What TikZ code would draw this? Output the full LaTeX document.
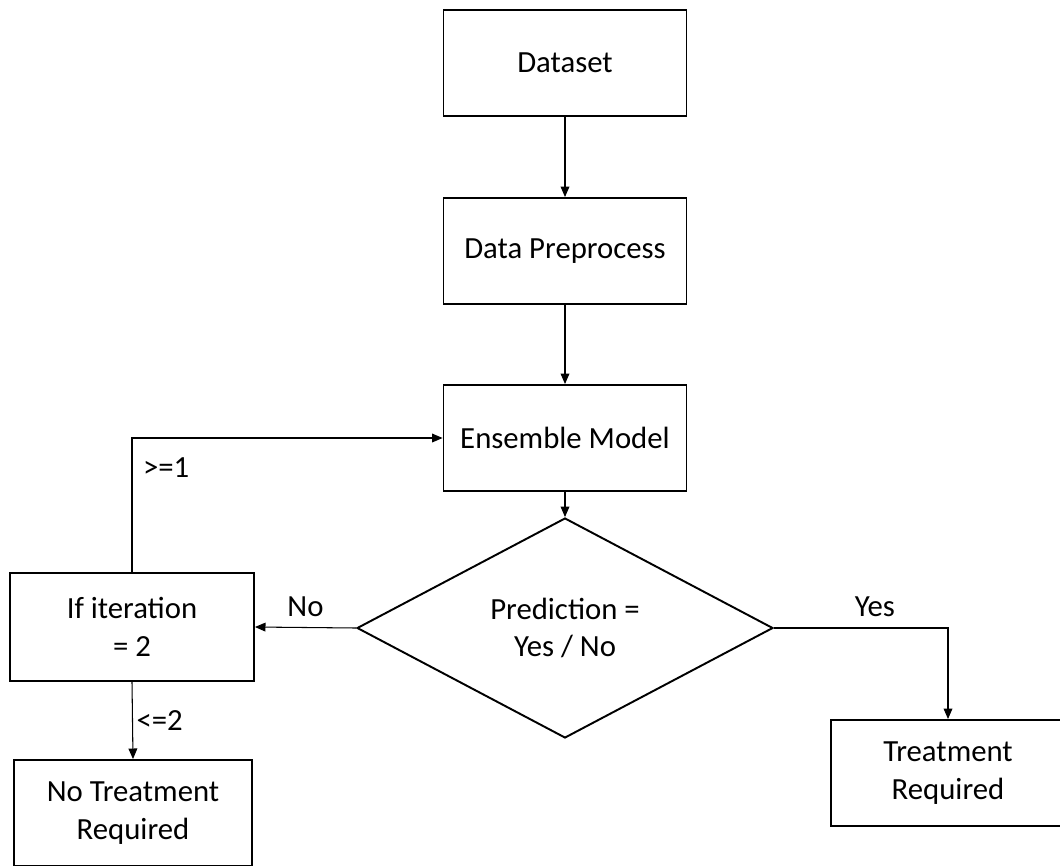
\documentclass[tikz,border=0pt]{standalone}
\usepackage{fontspec}
\setmainfont{Carlito}
\usetikzlibrary{arrows.meta,positioning,shapes.geometric}
\newcommand{\flowfont}{\fontsize{17.5}{21.5}\selectfont}

\begin{document}
\begin{tikzpicture}[x=0.02cm,y=-0.02cm,
  box/.style={draw, line width=1.1pt, minimum width=4.86cm, minimum height=2.12cm, align=center, font=\flowfont},
  decision/.style={draw, diamond, line width=1.1pt, minimum width=8.32cm, minimum height=4.4cm, inner sep=0pt, align=center, font=\flowfont},
  link/.style={draw, line width=0.6pt, -{Triangle[length=6pt,width=5pt]}},
  lbl/.style={font=\flowfont, inner sep=2pt}]
  \useasboundingbox (0,0) rectangle (1060,865);
  % main column
  \node[box] (dataset) at (565,63) {Dataset};
  \node[box] (prep) at (565,251) {Data Preprocess};
  \node[box] (ensemble) at (565,438) {Ensemble Model};
  \node[decision] (pred) at (565,628) {Prediction =\\Yes / No};
  % outcomes
  \node[box, minimum width=4.88cm, minimum height=2.16cm] (iter) at (132,627) {If iteration\\= 2};
  \node[box, minimum width=4.76cm] (notreat) at (133,813) {No Treatment\\Required};
  \node[box, minimum width=4.7cm] (treat) at (948,773) {Treatment\\Required};

  \draw[link] (dataset) -- (prep);
  \draw[link] (prep) -- (ensemble);
  \draw[link] (ensemble) -- (pred);
  \draw[link] (pred.west) -- node[lbl, above=4pt] (nolbl) {No} (iter.east);
  \draw[link] (pred.east) -| node[lbl, above=4pt, pos=0.29] (yeslbl) {Yes} (treat.north);
  \draw[link] (iter.north) |- node[lbl, right=4pt, pos=0.39] (gelbl) {>=1} (ensemble.west);
  \draw[link] (iter.south) -- node[lbl, right=0pt] (lelbl) {<=2} (notreat.north);
\end{tikzpicture}
\end{document}
